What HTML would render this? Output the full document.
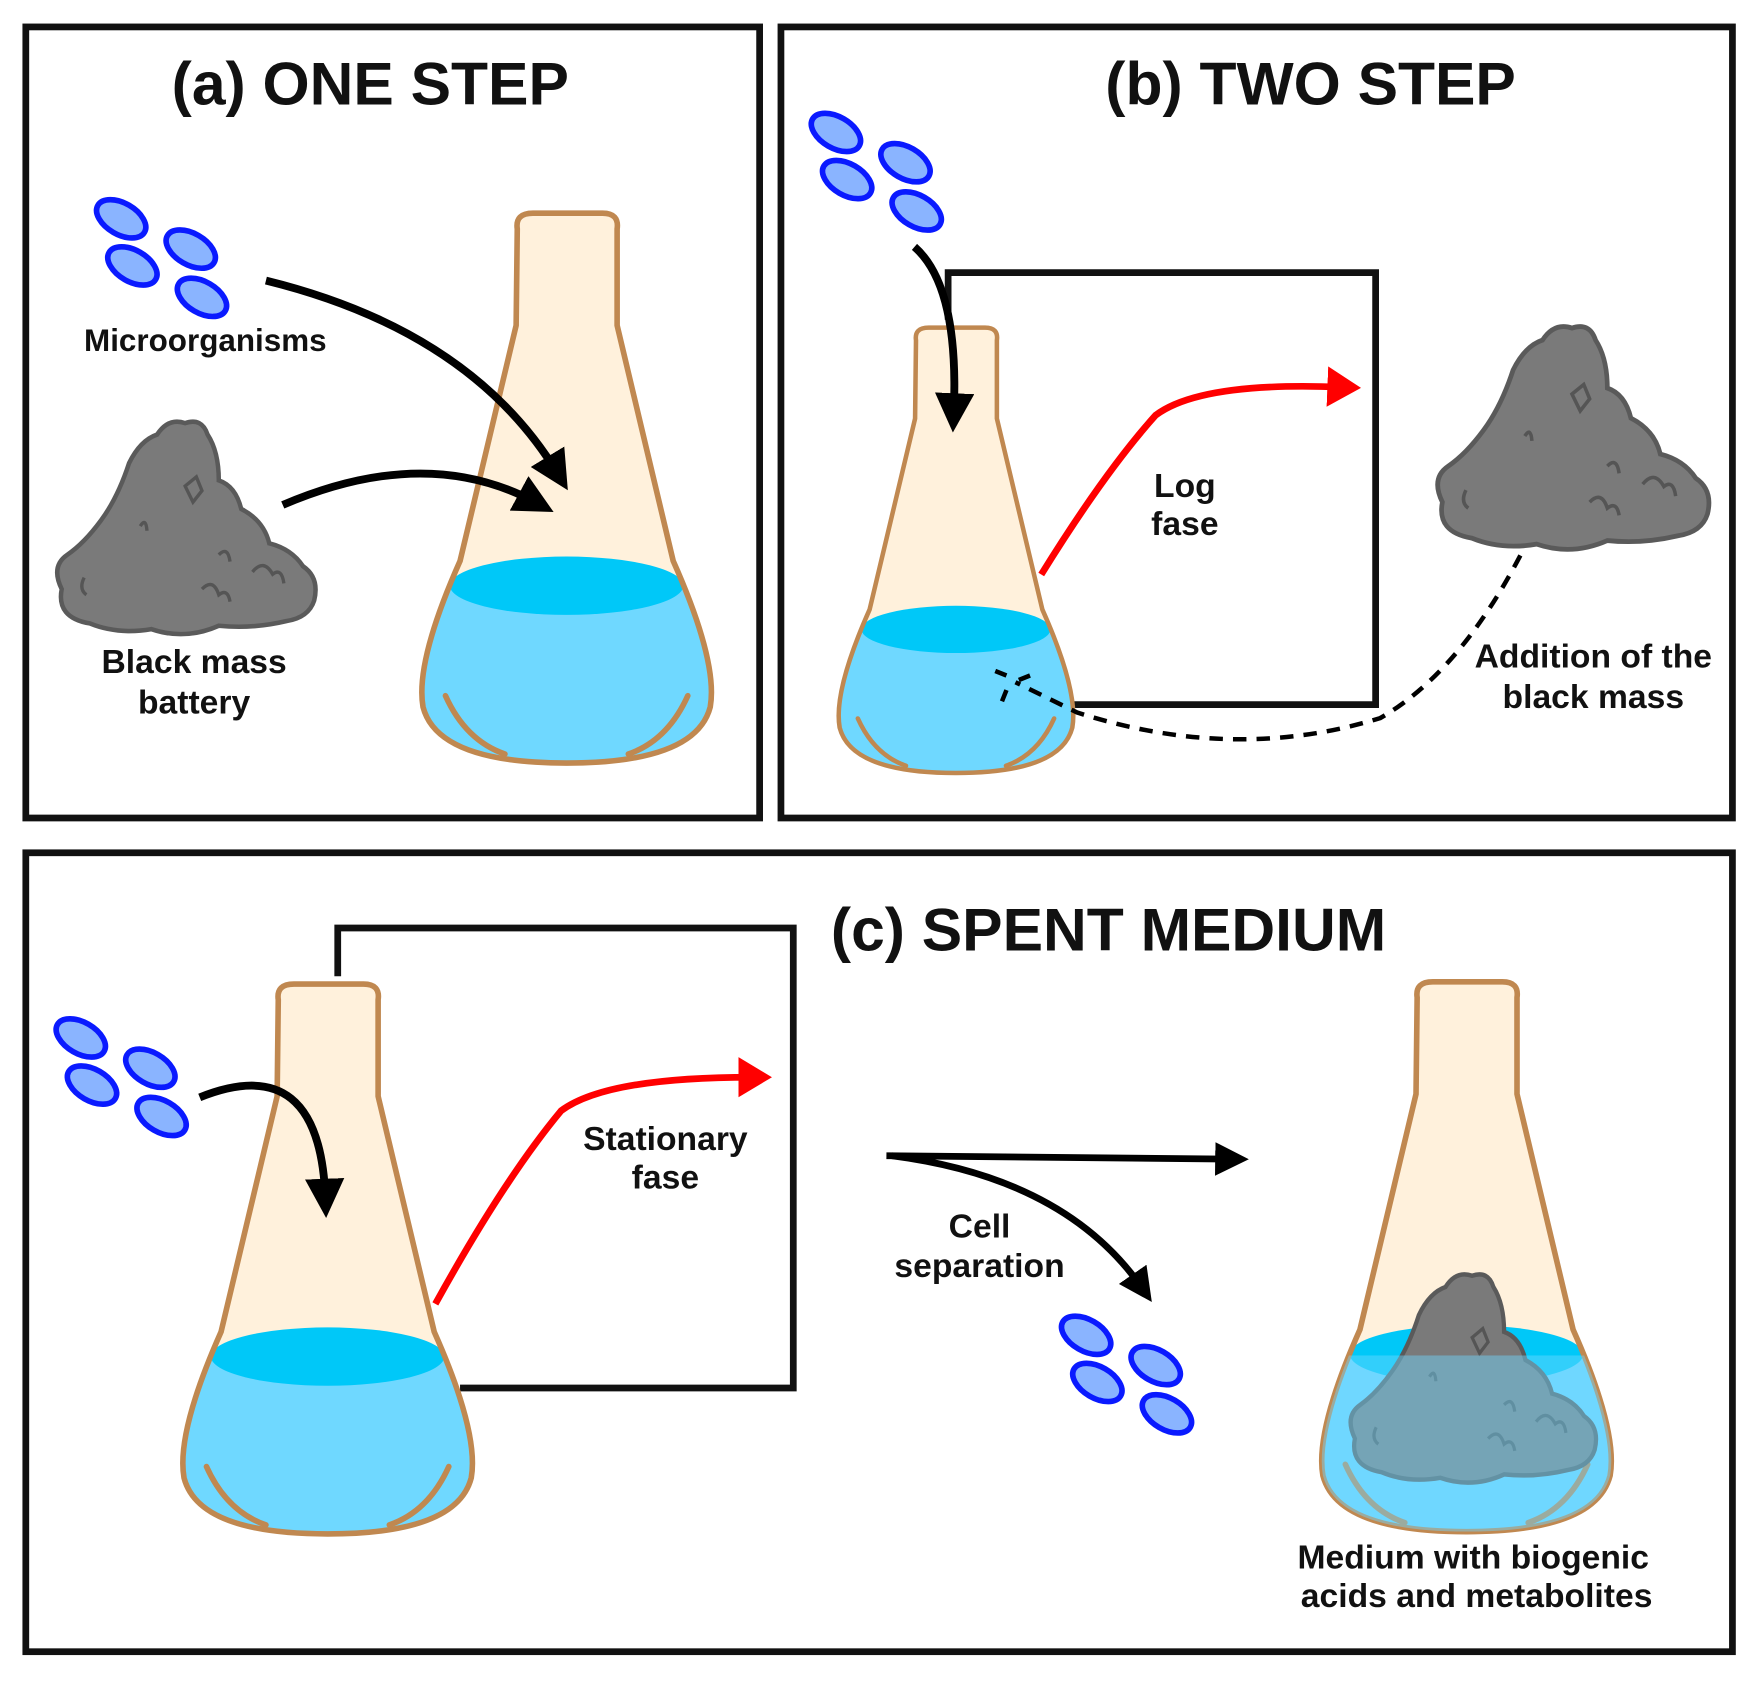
<!DOCTYPE html>
<html><head><meta charset="utf-8"><style>
html,body{margin:0;padding:0;background:#fff}
svg{display:block}
text{font-family:"Liberation Sans",sans-serif;font-weight:bold;fill:#111}
</style></head><body>
<svg width="1756" height="1682" viewBox="0 0 1565 1499" preserveAspectRatio="none" xmlns="http://www.w3.org/2000/svg">
<defs>
<path id="fl" d="M -44 14 Q -46 0 -30 0 L 32 0 Q 47 0 45 14 L 45 100 L 95 310 Q 135 400 128 440 Q 115 490 0 490 Q -115 490 -128 440 Q -135 400 -95 310 L -45 100 Z"/>
<clipPath id="flc"><use href="#fl"/></clipPath>
<clipPath id="flc2"><use href="#fl" transform="translate(1307 875)"/></clipPath>
<g id="flask">
<use href="#fl" fill="#fff1dc"/>
<g clip-path="url(#flc)">
<rect x="-200" y="332" width="400" height="200" fill="#6fd8ff"/>
<ellipse cx="0" cy="332" rx="104" ry="26" fill="#00c8f8"/>
</g>
<use href="#fl" fill="none" stroke="#c08850" stroke-width="5"/>
<path d="M -108 430 Q -90 470 -55 482 M 108 430 Q 90 470 55 482" fill="none" stroke="#c08850" stroke-width="5" stroke-linecap="round"/>
</g>
<g id="rock">
<path d="M 10 150 Q 0 130 15 120 Q 30 110 45 90 Q 60 70 70 40 Q 80 20 95 15 Q 105 0 120 5 Q 135 0 140 15 Q 150 30 150 55 Q 165 60 170 80 Q 190 90 195 110 Q 215 115 225 130 Q 240 140 235 160 Q 230 175 210 178 Q 180 185 150 182 Q 120 195 90 185 Q 60 190 35 180 Q 5 175 10 150 Z" fill="#7a7a7a" stroke="#5a5a5a" stroke-width="4"/>
<path d="M 120 60 l 10 -8 l 5 12 l -8 10 z M 80 95 q 5 -8 6 4 M 150 120 q 8 -8 10 6 M 135 150 q 10 -10 15 5 q 8 -6 10 6 M 180 135 q 10 -12 18 2 q 8 -6 10 8 M 30 140 q -5 10 2 15" fill="none" stroke="#555" stroke-width="3"/>
</g>
<g id="mic" fill="#8ab4ff" stroke="#0a1aff" stroke-width="5">
<ellipse cx="0" cy="0" rx="24" ry="14" transform="rotate(30)"/>
<ellipse cx="10" cy="42" rx="24" ry="14" transform="rotate(30 10 42)"/>
<ellipse cx="62" cy="27" rx="24" ry="14" transform="rotate(30 62 27)"/>
<ellipse cx="72" cy="70" rx="24" ry="14" transform="rotate(30 72 70)"/>
</g>
<marker id="ah" markerWidth="5" markerHeight="5" refX="2.5" refY="2.5" orient="auto" markerUnits="strokeWidth"><path d="M0,0 L5,2.5 L0,5 Z" fill="#000"/></marker>
<marker id="ahr" markerWidth="5" markerHeight="6" refX="2" refY="3" orient="auto" markerUnits="strokeWidth"><path d="M0,0 L5,3 L0,6 Z" fill="#f00"/></marker>
</defs>

<rect x="23" y="24" width="654" height="705" fill="none" stroke="#111" stroke-width="6"/>
<rect x="696" y="24" width="848" height="705" fill="none" stroke="#111" stroke-width="6"/>
<rect x="23" y="760" width="1521" height="712" fill="none" stroke="#111" stroke-width="6"/>

<text x="330" y="93" font-size="54" text-anchor="middle">(a) ONE STEP</text>
<text x="1168" y="93" font-size="54" text-anchor="middle">(b) TWO STEP</text>
<text x="988" y="847" font-size="54" text-anchor="middle">(c) SPENT MEDIUM</text>

<!-- (a) -->
<use href="#mic" x="108" y="195"/>
<text x="183" y="313" font-size="28" text-anchor="middle">Microorganisms</text>
<use href="#rock" transform="translate(45 372) scale(1 1.02)"/>
<text x="173" y="600" font-size="30" text-anchor="middle">Black mass</text>
<text x="173" y="636" font-size="30" text-anchor="middle">battery</text>
<use href="#flask" transform="translate(505 190)"/>
<path d="M 237 250 Q 420 295 497 422" fill="none" stroke="#000" stroke-width="7" marker-end="url(#ah)"/>
<path d="M 252 450 Q 380 395 478 448" fill="none" stroke="#000" stroke-width="7" marker-end="url(#ah)"/>

<!-- (b) -->
<use href="#mic" x="745" y="118"/>
<polyline points="845,285 845,243 1226,243 1226,628 955,628" fill="none" stroke="#111" stroke-width="6"/>
<use href="#flask" transform="translate(852 292) scale(0.81)"/>
<path d="M 815 220 Q 855 255 850 368" fill="none" stroke="#000" stroke-width="7" marker-end="url(#ah)"/>
<path d="M 928 512 Q 985 420 1030 370 Q 1070 340 1195 345" fill="none" stroke="#f00" stroke-width="6" marker-end="url(#ahr)"/>
<text x="1056" y="443" font-size="30" text-anchor="middle">Log</text>
<text x="1056" y="477" font-size="30" text-anchor="middle">fase</text>
<use href="#rock" transform="translate(1275 287) scale(1.05 1.07)"/>
<path d="M 1355 495 Q 1300 600 1230 640 Q 1100 680 960 635 L 905 608" fill="none" stroke="#000" stroke-width="4" stroke-dasharray="12 9"/>
<path d="M 887 598 l 10 4 M 893 625 l 4 -10 M 908 606 l 10 -4" stroke="#000" stroke-width="4"/>
<text x="1420" y="595" font-size="30" text-anchor="middle">Addition of the</text>
<text x="1420" y="631" font-size="30" text-anchor="middle">black mass</text>

<!-- (c) -->
<polyline points="301,870 301,827 707,827 707,1237 410,1237" fill="none" stroke="#111" stroke-width="6"/>
<use href="#flask" transform="translate(292 877)"/>
<use href="#mic" x="72" y="925"/>
<path d="M 178 978 Q 285 935 290 1068" fill="none" stroke="#000" stroke-width="7" marker-end="url(#ah)"/>
<path d="M 388 1162 Q 450 1050 500 990 Q 540 960 670 960" fill="none" stroke="#f00" stroke-width="6" marker-end="url(#ahr)"/>
<text x="593" y="1025" font-size="30" text-anchor="middle">Stationary</text>
<text x="593" y="1059" font-size="30" text-anchor="middle">fase</text>
<path d="M 790 1030 L 1098 1033" fill="none" stroke="#000" stroke-width="6" marker-end="url(#ah)"/>
<path d="M 795 1030 Q 950 1050 1018 1148" fill="none" stroke="#000" stroke-width="6" marker-end="url(#ah)"/>
<text x="873" y="1103" font-size="30" text-anchor="middle">Cell</text>
<text x="873" y="1138" font-size="30" text-anchor="middle">separation</text>
<use href="#mic" x="968" y="1190"/>
<use href="#flask" transform="translate(1307 875)"/>
<g clip-path="url(#flc2)">
<use href="#rock" transform="translate(1198 1132) scale(0.95 1.0)"/>
<rect x="1150" y="1208" width="320" height="200" fill="#6fd8ff" opacity="0.45"/>
</g>
<text x="1313" y="1398" font-size="30" text-anchor="middle">Medium with biogenic</text>
<text x="1316" y="1432" font-size="30" text-anchor="middle">acids and metabolites</text>
</svg>
</body></html>
